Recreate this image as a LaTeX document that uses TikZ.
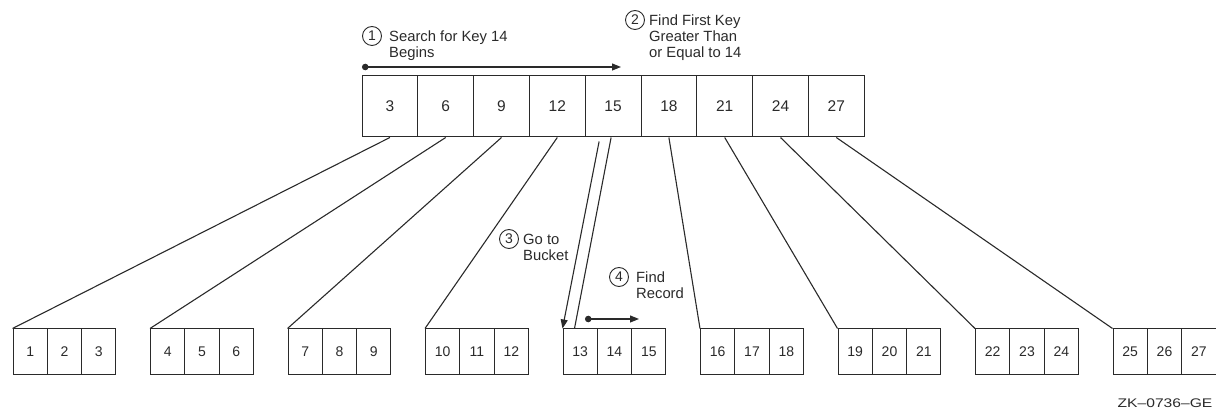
\documentclass[tikz,border=0pt]{standalone}
\usepackage{fontspec}
\setmainfont{Liberation Sans}
\newfontfamily\widefont[FakeStretch=1.25]{Liberation Sans}
\usetikzlibrary{arrows.meta,calc}
\definecolor{ink}{HTML}{2A2A2A}
\begin{document}
\begin{tikzpicture}[x=1pt,y=-1pt,
  cell/.style={draw=ink, line width=1pt, minimum width=55.8pt, minimum height=61pt, inner sep=0pt, text=ink, font=\fontsize{15.5}{18}\selectfont},
  bcell/.style={draw=ink, line width=1pt, minimum width=34.33pt, minimum height=46pt, inner sep=0pt, text=ink, font=\fontsize{14}{16}\selectfont},
  num/.style={circle, draw=ink, line width=0.9pt, minimum size=19pt, inner sep=0pt, text=ink, font=\fontsize{14}{14}\selectfont},
  lab/.style={anchor=north west, align=left, inner sep=0pt, text=ink, font=\fontsize{14.8}{15.8}\selectfont},
  link/.style={draw=ink, line width=1.1pt},
  tip/.style={-{Triangle[length=9pt,width=7pt]}},
  dottip/.style={{Circle[length=6.5pt]}-{Triangle[length=9pt,width=7pt]}}
]
\useasboundingbox (0,0) rectangle (1216,411);

% top index row
\foreach \v [count=\k] in {3,6,9,12,15,18,21,24,27}
  \node[cell] (t\k) at ({362+55.8*(\k-0.5)},106.5) {\v};

% buckets
\foreach \k in {1,...,9} {
  \foreach \j in {1,2,3} {
    \pgfmathtruncatemacro{\n}{3*(\k-1)+\j}
    \node[bcell] (b\k-\j) at ({13+137.5*(\k-1)+34.33*(\j-0.5)},352) {\n};
  }
}

% connectors
\foreach \k in {1,2,3,4,6,7,8,9}
  \draw[link] (t\k.south) -- (b\k-1.north west);

\coordinate (g5) at ($(t5.south)+(-2,0)$);
\coordinate (h5) at ($(b5-1.north west)+(12,0)$);
\draw[link] (g5) -- (h5);
\coordinate (a5) at ($(t5.south)+(-14,4)$);
\draw[link,tip] (a5) -- (b5-1.north west);

% step 1
\coordinate (s1) at (362,67);
\coordinate (e1) at (621,67);
\draw[link,dottip] (s1) -- (e1);
\node[num] (n1) at (372,36) {1};
\node[lab] (l1) at (389,31) {Search for Key 14\\Begins};

% step 2
\node[num] (n2) at (635,20) {2};
\node[lab] (l2) at (649,15) {Find First Key\\Greater Than\\or Equal to 14};

% step 3
\node[num] (n3) at (509,239) {3};
\node[lab] (l3) at (523,234) {Go to\\Bucket};

% step 4
\node[num] (n4) at (619,277) {4};
\node[lab] (l4) at (636,272) {Find\\Record};
\coordinate (s4) at (585,319);
\coordinate (e4) at (639,319);
\draw[link,dottip] (s4) -- (e4);

% figure id
\node[inner sep=0pt, text=ink, font=\widefont\fontsize{12.5}{13}\selectfont] (zk) at (1165,403) {ZK–0736–GE};
\end{tikzpicture}
\end{document}
